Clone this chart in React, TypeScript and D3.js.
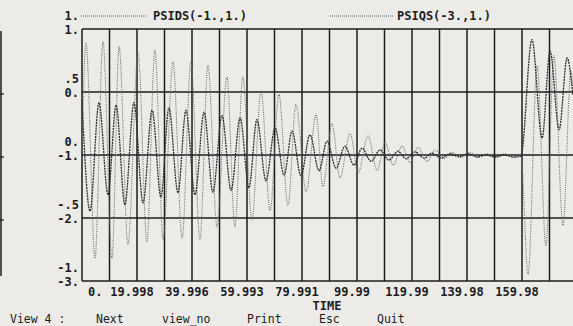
import React, { useRef, useEffect } from 'react';
import * as d3 from 'd3';

// extrema (time, value)
const psidsTime = [0, 1.45, 4.73, 7.64, 10.9, 13.5, 16.7, 20.4, 23.6, 26.5, 29.5, 33.1, 36.4, 39.6, 42.9, 45.8, 49.1, 52.7, 55.6, 58.5, 61.8, 65.1, 68.4, 71.6, 74.9, 77.8, 81.5, 85.1, 87.6, 90.9, 93.8, 97.5, 100.4, 104, 107.3, 110.2, 113.1, 116.4, 119.3, 122.2, 125.5, 128.4, 131.6, 134.5, 137.8, 141.1, 144, 147.3, 150.5, 153.8, 157.1, 159.6, 162.2, 165.5, 168.7, 171.6, 174.9, 177.8, 178.5]
const psidsValue = [0.04, 0.89, -0.82, 0.90, -0.82, 0.86, -0.71, 0.81, -0.69, 0.83, -0.67, 0.74, -0.66, 0.74, -0.67, 0.71, -0.57, 0.62, -0.57, 0.62, -0.52, 0.51, -0.44, 0.48, -0.40, 0.40, -0.29, 0.32, -0.25, 0.25, -0.18, 0.17, -0.14, 0.15, -0.12, 0.10, -0.08, 0.07, -0.06, 0.06, -0.05, 0.04, -0.03, 0.02, -0.02, 0.02, -0.02, 0.01, -0.02, 0.01, -0.02, 0, -0.95, 0.71, -0.72, 0.79, -0.56, 0.67, 0.52]

const psiqsTime = [0, 2.91, 6.18, 9.45, 12.4, 15.6, 18.9, 22.2, 25.5, 28.7, 31.6, 34.9, 37.8, 41.1, 44.4, 47.6, 50.9, 54.2, 57.5, 60.7, 63.6, 66.9, 70.2, 73.5, 76.4, 79.6, 82.9, 86.2, 89.1, 92.4, 95.6, 98.9, 101.8, 105.1, 108.4, 111.6, 114.9, 117.8, 121.1, 124.4, 127.3, 130.5, 133.8, 137.1, 140.4, 143.6, 146.9, 150.2, 153.5, 156.7, 159.6, 163.6, 167.3, 170.2, 173.5, 176.4, 178.5]
const psiqsValue = [-0.13, -1.89, -0.17, -1.63, -0.21, -1.79, -0.17, -1.76, -0.29, -1.67, -0.25, -1.60, -0.29, -1.63, -0.32, -1.59, -0.37, -1.56, -0.41, -1.52, -0.44, -1.41, -0.57, -1.32, -0.62, -1.33, -0.68, -1.25, -0.78, -1.21, -0.86, -1.16, -0.89, -1.10, -0.92, -1.08, -0.94, -1.06, -0.95, -1.05, -0.97, -1.05, -0.98, -1.03, -0.98, -1.03, -1.0, -1.03, -1.0, -1.03, -1.02, 0.83, -0.73, 0.65, -0.60, 0.54, -0.05]

const timeTicks = [0, 20, 40, 60, 80, 100, 120, 140, 160]
const timeTickLabels = ["0.", "19.998", "39.996", "59.993", "79.991", "99.99", "119.99", "139.98", "159.98"]
const psidsTicks = [1, 0.5, 0, -0.5, -1]
const psidsTickLabels = ["1.", ".5", "0.", "-.5", "-1."]
const psiqsTicks = [1, 0, -1, -2, -3]
const psiqsTickLabels = ["1.", "0.", "-1.", "-2.", "-3."]
const seriesNames = ["PSIDS(-1.,1.)", "PSIQS(-3.,1.)"]
const menuItems = ["View 4 :", "Next", "view_no", "Print", "Esc", "Quit"]

function App() {
  var width = 573
  var height = 326
  var margin = ({ top: 29, right: -4, bottom: 45, left: 82 })
  var font = "'DejaVu Sans Mono', monospace"
  var ink = "#1c1c1c"

  const ref = useRef(null);

  useEffect(() => {
    const svg = d3.select(ref.current)
    svg.selectAll("*").remove();
    drawChart();
  }, []);

  const drawChart = () => {
    const svg = d3.select(ref.current)

    svg.append("rect")
      .attr("width", width).attr("height", height)
      .attr("fill", "#ecebe8")

    var x = d3.scaleLinear()
      .domain([0, 180])
      .range([margin.left, width - margin.right])

    var yD = d3.scaleLinear()
      .domain([-1, 1])
      .range([height - margin.bottom, margin.top])

    var yQ = d3.scaleLinear()
      .domain([-3, 1])
      .range([height - margin.bottom, margin.top])

    // grid
    var grid = svg.append("g").attr("stroke", ink).attr("stroke-width", 1.5)
    grid.selectAll("line.v")
      .data(d3.range(0, 181, 10))
      .join("line")
      .attr("class", "v")
      .attr("x1", d => x(d)).attr("x2", d => x(d))
      .attr("y1", margin.top).attr("y2", height - margin.bottom)
    grid.selectAll("line.h")
      .data(psiqsTicks)
      .join("line")
      .attr("class", "h")
      .attr("x1", margin.left).attr("x2", width)
      .attr("y1", d => yQ(d)).attr("y2", d => yQ(d))

    // fragment of the neighbouring view at the left edge
    svg.append("line")
      .attr("x1", 1).attr("x2", 1).attr("y1", 31).attr("y2", 276)
      .attr("stroke", ink).attr("stroke-width", 1.5)
    svg.append("g").selectAll("line")
      .data([0, -1, -2])
      .join("line")
      .attr("x1", 0).attr("x2", 4)
      .attr("y1", d => yQ(d) + 2).attr("y2", d => yQ(d) + 2)
      .attr("stroke", ink).attr("stroke-width", 1.2)

    var dataD = psidsTime.map((t, i) => ({ t: t, v: psidsValue[i] }))
    var dataQ = psiqsTime.map((t, i) => ({ t: t, v: psiqsValue[i] }))

    var lineD = d3.line().x(d => x(d.t)).y(d => yD(d.v)).curve(d3.curveMonotoneX)
    var lineQ = d3.line().x(d => x(d.t)).y(d => yQ(d.v)).curve(d3.curveMonotoneX)

    svg.append("path")
      .attr("d", lineD(dataD))
      .attr("fill", "none")
      .attr("stroke", "#6e6e6e")
      .attr("stroke-width", 1.1)
      .attr("stroke-dasharray", "1,1.2")

    svg.append("path")
      .attr("d", lineQ(dataQ))
      .attr("fill", "none")
      .attr("stroke", "#2e2e2e")
      .attr("stroke-width", 1.3)
      .attr("stroke-dasharray", "2,0.8")

    var txt = svg.append("g")
      .attr("font-family", font)
      .attr("font-weight", "bold")
      .attr("font-size", 12)
      .attr("fill", ink)

    // y labels: PSIDS one row above, PSIQS on the grid line
    txt.selectAll("text.d")
      .data(psidsTicks)
      .join("text")
      .attr("class", "d")
      .attr("text-anchor", "end")
      .attr("x", 79)
      .attr("y", d => yD(d) - 13)
      .attr("dy", "0.35em")
      .text((d, i) => psidsTickLabels[i])
    txt.selectAll("text.q")
      .data(psiqsTicks)
      .join("text")
      .attr("class", "q")
      .attr("text-anchor", "end")
      .attr("x", 79)
      .attr("y", d => yQ(d) + 1)
      .attr("dy", "0.35em")
      .text((d, i) => psiqsTickLabels[i])

    // x labels
    txt.selectAll("text.t")
      .data(timeTicks)
      .join("text")
      .attr("class", "t")
      .attr("text-anchor", (d, i) => i == 0 ? "start" : "middle")
      .attr("x", (d, i) => i == 0 ? x(d) + 6 : x(d) - 5)
      .attr("y", 292)
      .attr("dy", "0.35em")
      .text((d, i) => timeTickLabels[i])

    txt.append("text")
      .attr("x", 327).attr("y", 306).attr("dy", "0.35em")
      .attr("text-anchor", "middle")
      .text("TIME")

    // legend header
    var legendX = [[81, 147, 153], [330, 393, 397]]
    legendX.forEach((p, i) => {
      svg.append("line")
        .attr("x1", p[0]).attr("x2", p[1]).attr("y1", 16).attr("y2", 16)
        .attr("stroke", "#555").attr("stroke-width", 1)
        .attr("stroke-dasharray", "1,1")
      txt.append("text")
        .attr("x", p[2]).attr("y", 16).attr("dy", "0.35em")
        .text(seriesNames[i])
    })

    // menu line
    var menuX = [10, 96, 162, 247, 319, 377]
    svg.append("g")
      .attr("font-family", font)
      .attr("font-size", 11.5)
      .attr("fill", ink)
      .selectAll("text")
      .data(menuItems)
      .join("text")
      .attr("x", (d, i) => menuX[i])
      .attr("y", 319)
      .attr("dy", "0.35em")
      .text(d => d)
  }

  return (
    <svg ref={ref} width={width} height={height}
      style={{ position: "absolute", left: 0, top: 0, display: "block" }}>
    </svg>
  );
}

export default App;
